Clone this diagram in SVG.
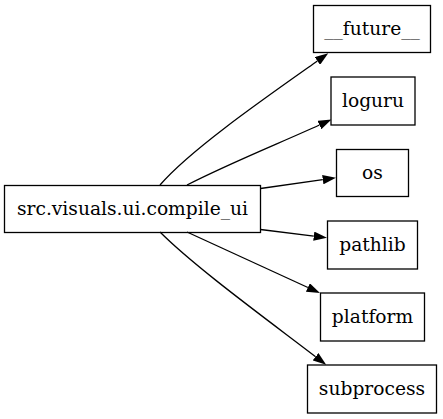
<svg xmlns="http://www.w3.org/2000/svg" width="443" height="419" viewBox="0 0 443 419">
<style>
.n rect{fill:none;stroke:#000;stroke-width:1.3}
.e path{fill:none;stroke:#000;stroke-width:1.3}
text{font-family:'DejaVu Serif','Liberation Serif',serif;font-size:18.67px;text-anchor:middle;fill:#000}
</style>
<defs>
<marker id="ah" viewBox="0 0 13.3 9.3" refX="0" refY="4.65" markerWidth="13.3" markerHeight="9.3" markerUnits="userSpaceOnUse" orient="auto">
<polygon points="0,0 13.3,4.65 0,9.3" fill="#000"/>
</marker>
</defs>
<rect width="443" height="419" fill="#fff"/>
<g class="e" id="edges">
<path d="M160,185 C190,150 265,98 317.4,61" marker-end="url(#ah)"/>
<path d="M187,185 C230,163 280,143 319.4,125" marker-end="url(#ah)"/>
<path d="M260.5,188.5 L322.8,179.7" marker-end="url(#ah)"/>
<path d="M260.5,229.5 L313.8,236.2" marker-end="url(#ah)"/>
<path d="M187,232 C230,252 270,270 307.9,287.5" marker-end="url(#ah)"/>
<path d="M160,232 C195,267 265,318 315.6,356.7" marker-end="url(#ah)"/>
</g>
<g class="n" id="compile_ui"><rect x="4.5" y="185.5" width="256" height="47"/><text x="132.5" y="215">src.visuals.ui.compile_ui</text></g>
<g class="n" id="future"><rect x="313.5" y="5.5" width="117" height="47"/><text x="372" y="35">__future__</text></g>
<g class="n" id="loguru"><rect x="331" y="77" width="84" height="48"/><text x="373" y="107">loguru</text></g>
<g class="n" id="os"><rect x="336.5" y="149.5" width="72" height="47"/><text x="372.5" y="179">os</text></g>
<g class="n" id="pathlib"><rect x="327.5" y="221" width="90" height="48"/><text x="372.5" y="251">pathlib</text></g>
<g class="n" id="platform"><rect x="320.5" y="293" width="104" height="48"/><text x="372.5" y="323">platform</text></g>
<g class="n" id="subprocess"><rect x="307.5" y="365" width="129" height="48"/><text x="372" y="395">subprocess</text></g>
</svg>
